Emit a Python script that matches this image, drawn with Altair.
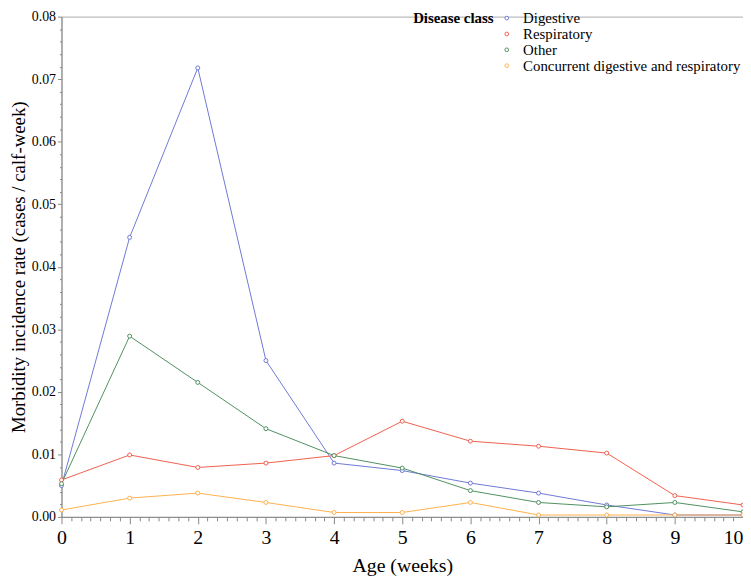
import altair as alt
import pandas as pd

weeks = [0, 1, 2, 3, 4, 5, 6, 7, 8, 9, 10]
digestive = [0.0050, 0.0447, 0.0718, 0.0250, 0.0086, 0.0074, 0.0054, 0.0038, 0.0019, 0.0003, 0.0003]
respiratory = [0.0059, 0.0099, 0.0079, 0.0086, 0.0098, 0.0153, 0.0121, 0.0113, 0.0102, 0.0034, 0.0019]
other = [0.0053, 0.0289, 0.0215, 0.0141, 0.0098, 0.0078, 0.0042, 0.0023, 0.0016, 0.0023, 0.0008]
concurrent = [0.0011, 0.0030, 0.0038, 0.0023, 0.0007, 0.0007, 0.0023, 0.0003, 0.0003, 0.0003, 0.0003]

classes = ["Digestive", "Respiratory", "Other", "Concurrent digestive and respiratory"]
colors = ["#6f78d4", "#f0604f", "#4f9060", "#ffb04d"]
series = [digestive, respiratory, other, concurrent]

x_ticks = [k / 7 for k in range(0, 71)]
y_ticks = [round(k * 0.002, 3) for k in range(0, 41)]

rows = []
for name, vals in zip(classes, series):
    for w, v in zip(weeks, vals):
        rows.append({"week": w, "rate": v, "cls": name})
df = pd.DataFrame(rows)

FONT = "Liberation Serif"
IS_MAJOR_X = "abs(datum.value - round(datum.value)) < 1e-6"
IS_MAJOR_Y = "abs(datum.value*100 - round(datum.value*100)) < 1e-6"

color = alt.Color(
    "cls:N",
    scale=alt.Scale(domain=classes, range=colors),
    legend=alt.Legend(
        title="Disease class",
        titleOrient="left",
        titleAnchor="start",
        orient="none",
        legendX=355,
        legendY=-6,
        titleFont=FONT,
        titleFontSize=15,
        titleFontWeight="bold",
        titleColor="black",
        labelFont=FONT,
        labelFontSize=15,
        labelColor="black",
        labelLimit=400,
        symbolType="circle",
        symbolSize=14,
        symbolStrokeWidth=1,
        symbolFillColor="white",
        rowPadding=0,
        labelOffset=9,
    ),
)

x = alt.X(
    "week:Q",
    scale=alt.Scale(domain=[0, 10], nice=False, zero=False),
    axis=alt.Axis(
        title="Age (weeks)",
        values=x_ticks,
        labelExpr=IS_MAJOR_X + " ? format(datum.value, 'd') : ''",
        labelAlign={"condition": {"test": "datum.value > 9.99", "value": "right"}, "value": "center"},
        tickSize={"condition": {"test": IS_MAJOR_X, "value": 7}, "value": 4},
        tickColor="#888888",
        domainColor="#888888",
        labelFont=FONT,
        labelFontSize=20,
        labelColor="black",
        labelPadding=4,
        titleFont=FONT,
        titleFontSize=20,
        titleFontWeight="normal",
        titleColor="black",
        titlePadding=8,
        grid=False,
        labelFlush=False,
        labelOverlap=False,
    ),
)

y = alt.Y(
    "rate:Q",
    scale=alt.Scale(domain=[0, 0.08], nice=False),
    axis=alt.Axis(
        title="Morbidity incidence rate (cases / calf-week)",
        values=y_ticks,
        labelExpr=IS_MAJOR_Y + " ? format(datum.value, '.2f') : ''",
        tickSize={"condition": {"test": IS_MAJOR_Y, "value": 4}, "value": 2},
        tickColor="#888888",
        domainColor="#888888",
        labelFont=FONT,
        labelFontSize=14,
        labelColor="black",
        labelPadding=2,
        titleFont=FONT,
        titleFontSize=19,
        titleFontWeight="normal",
        titleColor="black",
        titlePadding=3,
        grid=False,
        labelOverlap=False,
    ),
)

chart = (
    alt.Chart(df)
    .mark_line(
        strokeWidth=1,
        point=alt.OverlayMarkDef(shape="circle", size=16, strokeWidth=1, filled=False, fill="white"),
    )
    .encode(x=x, y=y, color=color, order="week:Q")
    .properties(width=688, height=505, padding={"left": 54, "top": 6, "right": 0, "bottom": 58}, autosize="none")
    .configure(background="white", font=FONT)
    .configure_view(stroke="#aaaaaa", strokeWidth=1)
)

chart.save("out.html", embed_options={"renderer": "svg", "actions": False})
